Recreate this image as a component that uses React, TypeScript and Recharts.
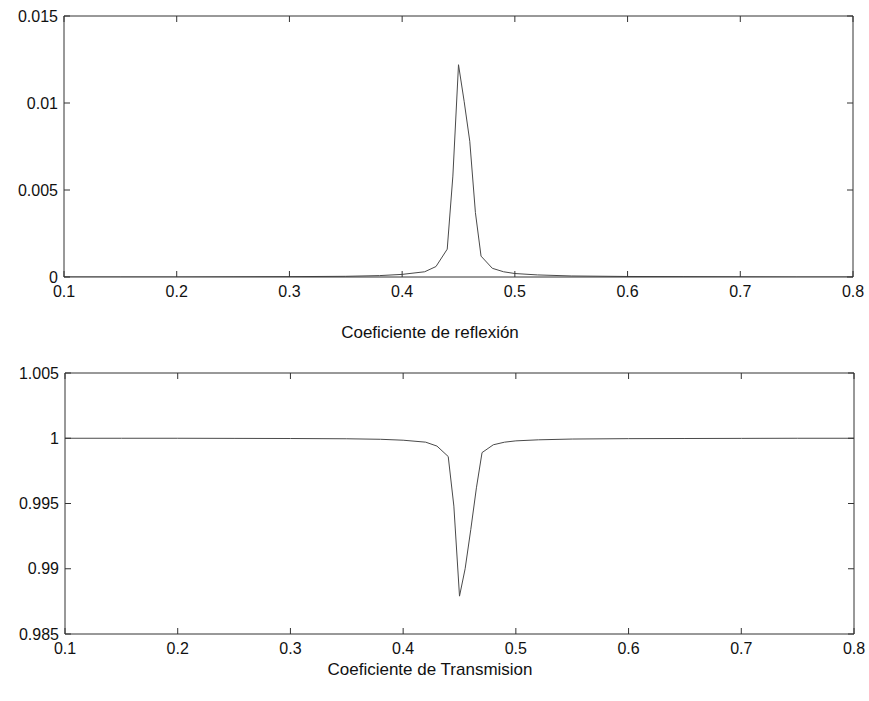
import { LineChart, Line, XAxis, YAxis } from "recharts";

const longitudes = [0.1, 0.15, 0.2, 0.25, 0.3, 0.35, 0.38, 0.4, 0.42, 0.43, 0.44, 0.445, 0.45, 0.455, 0.46, 0.465, 0.47, 0.48, 0.49, 0.5, 0.52, 0.55, 0.6, 0.65, 0.7, 0.75, 0.8];

const reflexion = [0, 0, 0, 0.00001, 0.00002, 0.00004, 0.00008, 0.00015, 0.0003, 0.0006, 0.0016, 0.0058, 0.0122, 0.0101, 0.0078, 0.0037, 0.0012, 0.0005, 0.0003, 0.0002, 0.00012, 0.00006, 0.00003, 0.00002, 0.00001, 0, 0];

const transmision = [1, 1, 1, 0.99999, 0.99998, 0.99996, 0.99992, 0.99985, 0.9997, 0.9994, 0.9986, 0.9948, 0.9879, 0.9900, 0.9930, 0.9962, 0.9989, 0.9995, 0.9997, 0.9998, 0.99988, 0.99994, 0.99997, 0.99998, 0.99999, 1, 1];

const xTicks = [0.1, 0.2, 0.3, 0.4, 0.5, 0.6, 0.7, 0.8];
const yTicksR = [0, 0.005, 0.01, 0.015];
const yTicksT = [0.985, 0.99, 0.995, 1, 1.005];

const dataR = longitudes.map((x, i) => ({ x, y: reflexion[i] }));
const dataT = longitudes.map((x, i) => ({ x, y: transmision[i] }));

const FONT = "'Liberation Sans', Arial, sans-serif";
const tickStyle = { fontSize: 16, fill: "#111", fontFamily: FONT };
const axisColor = "#333";
const blank = () => "";

const Panel = ({ data, yTicks, domain }: { data: any[]; yTicks: number[]; domain: [number, number] }) => (
  <LineChart width={869} height={307} data={data} margin={{ top: 15, right: 15, left: 0, bottom: 0 }}>
    <XAxis
      dataKey="x"
      type="number"
      domain={[0.1, 0.8]}
      ticks={xTicks}
      allowDataOverflow
      height={30}
      tickSize={-6}
      tickMargin={15}
      tick={tickStyle}
      tickFormatter={(v) => String(v)}
      stroke={axisColor}
    />
    <XAxis
      xAxisId="top"
      dataKey="x"
      type="number"
      orientation="top"
      domain={[0.1, 0.8]}
      ticks={xTicks}
      allowDataOverflow
      height={1}
      tickSize={-6}
      tickFormatter={blank}
      stroke={axisColor}
    />
    <YAxis
      type="number"
      domain={domain}
      ticks={yTicks}
      allowDataOverflow
      width={64}
      tickSize={-6}
      tickMargin={12}
      tick={tickStyle}
      tickFormatter={(v) => String(v)}
      stroke={axisColor}
    />
    <YAxis
      yAxisId="right"
      type="number"
      orientation="right"
      domain={domain}
      ticks={yTicks}
      allowDataOverflow
      width={1}
      tickSize={-6}
      tickFormatter={blank}
      stroke={axisColor}
    />
    <Line type="linear" dataKey="y" stroke="#4a4a4a" strokeWidth={1} dot={false} isAnimationActive={false} />
  </LineChart>
);

const titleStyle: React.CSSProperties = {
  position: "absolute",
  left: 0,
  width: 860,
  textAlign: "center",
  fontFamily: FONT,
  fontSize: 17,
  color: "#111",
};

export default function App() {
  return (
    <div style={{ position: "absolute", left: 0, top: 0, width: 869, height: 701, background: "#fff" }}>
      <div style={{ position: "absolute", left: 0, top: 0 }}>
        <Panel data={dataR} yTicks={yTicksR} domain={[0, 0.015]} />
      </div>
      <div style={{ ...titleStyle, top: 323 }}>Coeficiente de reflexión</div>
      <div style={{ position: "absolute", left: 1, top: 357 }}>
        <Panel data={dataT} yTicks={yTicksT} domain={[0.985, 1.005]} />
      </div>
      <div style={{ ...titleStyle, top: 660 }}>Coeficiente de Transmision</div>
    </div>
  );
}
